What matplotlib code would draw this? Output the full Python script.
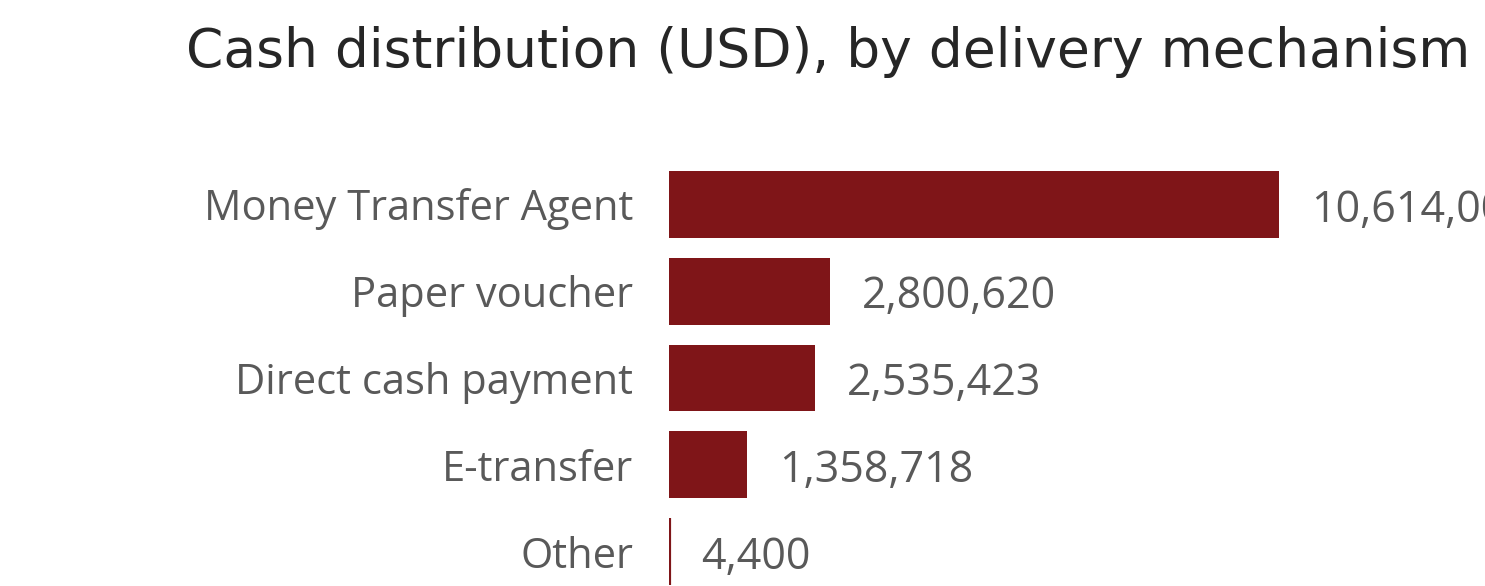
import matplotlib.pyplot as plt
from matplotlib.transforms import offset_copy

categories = ["Money Transfer Agent", "Paper voucher", "Direct cash payment", "E-transfer", "Other"]
values = [10614000, 2800620, 2535423, 1358718, 4400]
value_labels = ["10,614,000", "2,800,620", "2,535,423", "1,358,718", "4,400"]

BAR = "#7F1518"
GREY = "#595959"
W, H = 1485, 586

fig = plt.figure(figsize=(W / 100, H / 100), dpi=100)
# axes placed in pixel terms: bars start at x=669, rows 87 px apart
ax = fig.add_axes([669 / W, (H - 595) / H, 816 / W, 434 / H])
y = list(range(len(categories)))
# tiny "Other" bar gets an outline so it stays visible, like the original
ax.barh(y, values, height=0.77, color=BAR, edgecolor=BAR,
        linewidth=[0, 0, 0, 0, 3])
ax.set_ylim(4.5, -0.5)
ax.set_xlim(0, 816 / 610 * values[0])

ax.set_yticks(y)
ax.set_yticklabels(categories, fontsize=30, color=GREY, family="Open Sans")
ax.tick_params(axis="y", length=0, pad=26)
ax.set_xticks([])
for s in ax.spines.values():
    s.set_visible(False)

tr = offset_copy(ax.transData, fig=fig, x=32 * 0.72, y=-6 * 0.72, units="points")
for yi, v, lab in zip(y, values, value_labels):
    ax.text(v, yi, lab, transform=tr, va="center", ha="left",
            fontsize=31, color=GREY, family="Open Sans", clip_on=False)

fig.text(186 / W, 1 - 52 / H, "Cash distribution (USD), by delivery mechanism",
         fontsize=38.5, color="#262626", family="DejaVu Sans", va="center", ha="left")

fig.savefig("out.png", dpi=100)
